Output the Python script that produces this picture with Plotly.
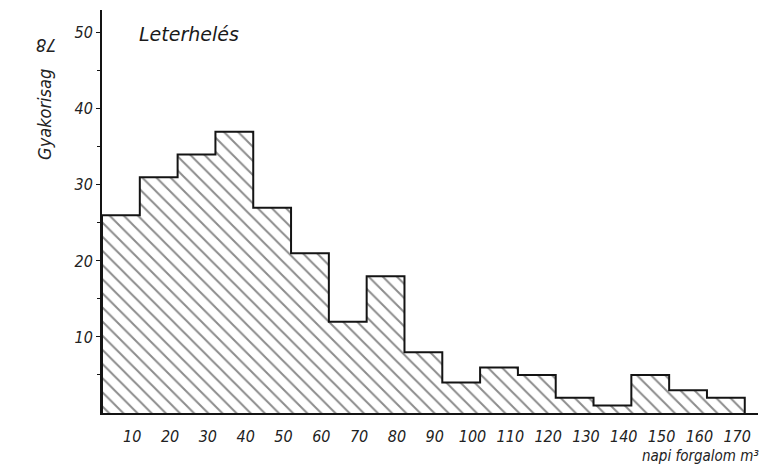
import plotly.graph_objects as go

# data
bin_labels = [str(v) for v in range(10, 180, 10)]
bin_left = list(range(0, 170, 10))
frequency = [26, 31, 34, 37, 27, 21, 12, 18, 8, 4, 6, 5, 2, 1, 5, 3, 2]
y_ticks = [10, 20, 30, 40, 50]

bin_w = 10
centers = [l + bin_w / 2 for l in bin_left]

fig = go.Figure()
fig.add_trace(go.Bar(
    x=centers, y=frequency, width=bin_w,
    marker=dict(color="white", line=dict(width=0),
                pattern=dict(shape="\\", size=10, solidity=0.2,
                             fgcolor="#1a1a1a", bgcolor="white")),
    hoverinfo="skip", showlegend=False))

# step outline
sx = [bin_left[0]] + bin_left + [bin_left[-1] + bin_w, bin_left[-1] + bin_w]
sy = [0] + frequency + [frequency[-1], 0]
fig.add_trace(go.Scatter(x=sx, y=sy, mode="lines", line=dict(color="#141414", width=2, shape="hv"),
                         hoverinfo="skip", showlegend=False))

fam = "DejaVu Sans Condensed, DejaVu Sans"
tickfont = dict(family=fam, size=16, color="#222", style="italic")

fig.update_layout(
    width=767, height=470,
    margin=dict(l=102, r=9, t=10, b=57),
    paper_bgcolor="white", plot_bgcolor="white",
    bargap=0,
    xaxis=dict(range=[0, 173.5], tickvals=[c + 3 for c in centers], ticktext=bin_labels,
               showgrid=False, zeroline=False, showline=True, linecolor="#141414", linewidth=2,
               ticks="", tickfont=tickfont, ticklabelstandoff=8),
    yaxis=dict(range=[0, 53], tickvals=y_ticks, ticktext=[str(v) for v in y_ticks],
               showgrid=False, zeroline=False, showline=True, linecolor="#141414", linewidth=2,
               ticks="outside", ticklen=4, tickcolor="#141414", tickfont=tickfont,
               minor=dict(tickvals=[5, 15, 25, 35, 45], ticks="outside", ticklen=3, tickcolor="#141414")),
    annotations=[
        dict(text="Leterhelés", xref="paper", yref="paper", x=0.053, y=0.94,
             xanchor="left", yanchor="middle", showarrow=False,
             font=dict(family="DejaVu Sans", size=19, color="#1a1a1a", style="italic")),
        dict(text="Gyakorisag", xref="paper", yref="paper", x=-0.087, y=0.742,
             textangle=-90, xanchor="center", yanchor="middle", showarrow=False,
             font=dict(family=fam, size=18, color="#222", style="italic")),
        dict(text="78", xref="paper", yref="paper", x=-0.085, y=0.912,
             textangle=180, xanchor="center", yanchor="middle", showarrow=False,
             font=dict(family=fam, size=18, color="#222", style="italic")),
        dict(text="napi forgalom m³", xref="paper", yref="paper", x=1.005, y=-0.107,
             xanchor="right", yanchor="middle", showarrow=False,
             font=dict(family=fam, size=15, color="#222", style="italic")),
    ],
)

fig.write_html("out.html")
